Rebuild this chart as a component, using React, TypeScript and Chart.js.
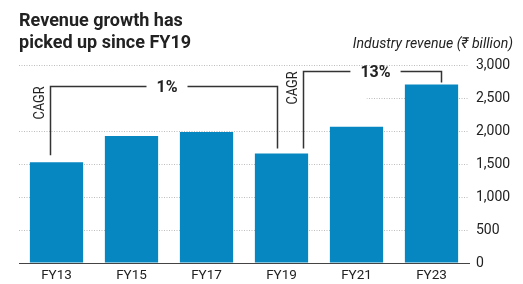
import { useEffect, useRef } from "react";
import { Chart, registerables } from "chart.js";
Chart.register(...registerables);

const categories = ["FY13", "FY15", "FY17", "FY19", "FY21", "FY23"];
const revenue = [1525, 1925, 1985, 1660, 2065, 2705];
const yTicks = [0, 500, 1000, 1500, 2000, 2500, 3000];
const titleLines = ["Revenue growth has", "picked up since FY19"];
const unitLabel = "Industry revenue (₹ billion)";
const cagrWord = "CAGR";
const cagrLabels = ["1%", "13%"];
const cagrFrom = [0, 3];
const cagrTo = [3, 5];
const cagrLevel = [2680, 2910];

const FONT = "Roboto, 'Noto Sans', sans-serif";
const BAR = "#0787c2";
const INK = "#222222";

// style offsets for brackets (pixels), not data
const bracketStyle = [
  { dxL: -6.5, dxR: -4.5, gapL: 7, gapR: 5 },
  { dxL: 21.5, dxR: 9, gapL: 5, gapR: 2 },
];

const annotPlugin = {
  id: "annot",
  beforeDatasetsDraw(chart: any) {
    const { ctx, chartArea, scales } = chart;
    const x = scales.x, y = scales.y;
    const yy = y.getPixelForValue(2500);
    ctx.save();
    ctx.fillStyle = "#ffffff";
    ctx.fillRect(chartArea.left, yy - 3, x.getPixelForValue(4) + 10 - chartArea.left, 6);
    ctx.restore();
  },
  afterDraw(chart: any) {
    const { ctx, scales } = chart;
    const x = scales.x, y = scales.y;
    ctx.save();
    // title
    ctx.fillStyle = INK;
    ctx.textBaseline = "alphabetic";
    ctx.textAlign = "left";
    ctx.font = `bold 18px ${FONT}`;
    ctx.fillText(titleLines[0], 19, 26);
    ctx.fillText(titleLines[1], 19, 48);
    ctx.save();
    ctx.font = `italic 15px ${FONT}`;
    ctx.textAlign = "right";
    ctx.translate(513, 48);
    ctx.scale(0.94, 1);
    ctx.fillText(unitLabel, 0, 0);
    ctx.restore();

    // brackets
    ctx.strokeStyle = "#333333";
    ctx.lineWidth = 1.5;
    for (let i = 0; i < cagrLabels.length; i++) {
      const st = bracketStyle[i];
      const xl = Math.round(x.getPixelForValue(cagrFrom[i]) + st.dxL) + 0.5;
      const xr = Math.round(x.getPixelForValue(cagrTo[i]) + st.dxR) + 0.5;
      const yt = Math.round(y.getPixelForValue(cagrLevel[i])) + 0.5;
      const ybl = y.getPixelForValue(revenue[cagrFrom[i]]) - st.gapL;
      const ybr = y.getPixelForValue(revenue[cagrTo[i]]) - st.gapR;
      ctx.font = `bold 16px ${FONT}`;
      const label = cagrLabels[i];
      const w = ctx.measureText(label).width;
      const cx = (xl + xr) / 2 + 3;
      const pad = 10;
      ctx.beginPath();
      ctx.moveTo(xl, ybl);
      ctx.lineTo(xl, yt);
      ctx.lineTo(cx - w / 2 - pad, yt);
      ctx.moveTo(cx + w / 2 + pad, yt);
      ctx.lineTo(xr, yt);
      ctx.lineTo(xr, ybr);
      ctx.stroke();
      ctx.textAlign = "center";
      ctx.textBaseline = "middle";
      ctx.fillStyle = INK;
      ctx.fillText(label, cx, yt + 1);
      // CAGR vertical
      ctx.save();
      ctx.translate(xl - 6.5, yt);
      ctx.rotate(-Math.PI / 2);
      ctx.scale(0.85, 1);
      ctx.font = `15px ${FONT}`;
      ctx.textAlign = "right";
      ctx.textBaseline = "alphabetic";
      ctx.fillText(cagrWord, 0, 0);
      ctx.restore();
    }
    ctx.restore();
  },
};

export default function App() {
  const ref = useRef<HTMLCanvasElement>(null);
  useEffect(() => {
    document.body.style.margin = "0";
    const chart = new Chart(ref.current!, {
      type: "bar",
      data: {
        labels: categories,
        datasets: [
          {
            data: revenue,
            backgroundColor: BAR,
            barPercentage: 0.71,
            categoryPercentage: 1,
          },
        ],
      },
      options: {
        animation: false,
        responsive: true,
        maintainAspectRatio: false,
        layout: { padding: { left: 19, top: 65, right: 0, bottom: 0 } },
        plugins: { legend: { display: false }, tooltip: { enabled: false }, title: { display: false } },
        scales: {
          x: {
            grid: { display: false, drawTicks: false },
            border: { display: true, color: "#444444", width: 1 },
            ticks: { padding: 5, color: INK, font: { family: FONT, size: 13.5 } },
            afterFit: (s: any) => {
              s.height = 21;
            },
          },
          y: {
            position: "right",
            min: 0,
            max: 3000,
            afterBuildTicks: (s: any) => {
              s.ticks = yTicks.map((v) => ({ value: v }));
            },
            grid: {
              drawTicks: false,
              color: (c: any) => (c.tick && c.tick.value === 0 ? "rgba(0,0,0,0)" : "#bdbdbd"),
              lineWidth: 1,
            },
            border: { display: false, dash: [1, 1.5] },
            ticks: {
              padding: 7,
              color: INK,
              font: { family: FONT, size: 14 },
              callback: (v: any) => Number(v).toLocaleString("en-US"),
            },
            afterFit: (s: any) => {
              s.width = 54;
            },
          },
        },
      },
      plugins: [annotPlugin],
    });
    return () => chart.destroy();
  }, []);
  return (
    <div style={{ width: 523, height: 284, position: "relative" }}>
      <canvas ref={ref} />
    </div>
  );
}
